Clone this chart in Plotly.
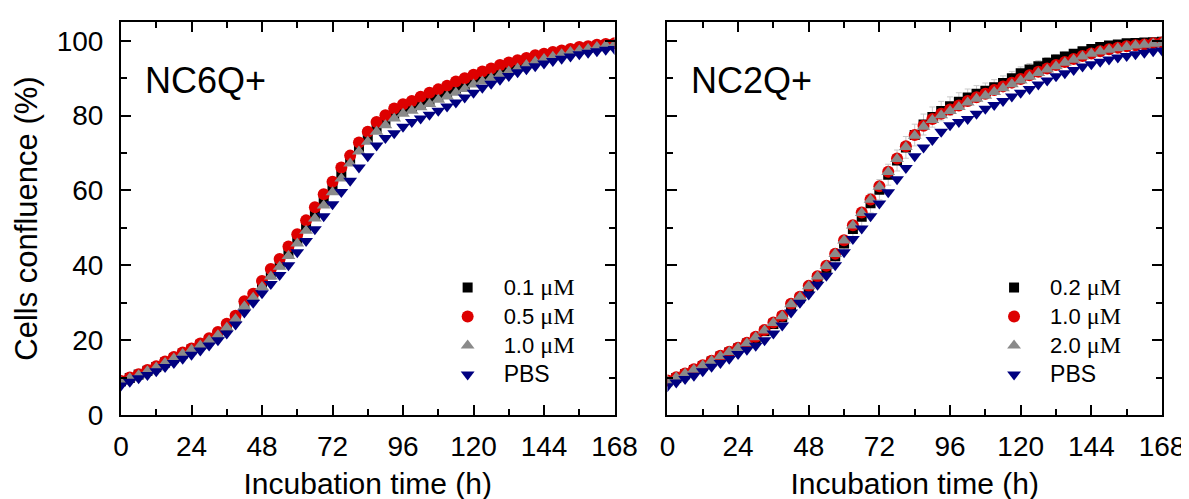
import plotly.graph_objects as go

# ---------------- data ----------------
time_h = [0, 3, 6, 9, 12, 15, 18, 21, 24, 27, 30, 33, 36, 39, 42, 45, 48, 51, 54, 57,
          60, 63, 66, 69, 72, 75, 78, 81, 84, 87, 90, 93, 96, 99, 102, 105, 108, 111, 114, 117,
          120, 123, 126, 129, 132, 135, 138, 141, 144, 147, 150, 153, 156, 159, 162, 165, 168]

# Left panel: NC6Q+
nc6_01 = [9.0, 9.9, 10.8, 11.8, 12.8, 14.0, 15.2, 16.4, 17.5, 18.7,
          20.0, 21.5, 23.6, 26.0, 29.5, 31.8, 34.8, 37.6, 40.3, 43.3,
          46.6, 50.0, 53.4, 57.0, 60.4, 64.2, 68.0, 71.3, 73.9, 76.4,
          78.2, 80.0, 81.3, 82.2, 83.2, 84.1, 85.2, 86.1, 87.1, 88.1,
          89.1, 89.9, 90.8, 91.7, 92.5, 93.3, 94.1, 94.9, 95.6, 96.2,
          96.8, 97.3, 97.7, 98.1, 98.5, 98.8, 99.1]
nc6_05 = [9.1, 10.0, 10.9, 12.0, 13.0, 14.3, 15.5, 16.7, 17.8, 19.1,
          20.5, 22.2, 24.4, 26.5, 30.4, 32.4, 35.8, 39.0, 41.7, 45.0,
          48.3, 52.0, 55.5, 59.0, 62.3, 66.1, 69.3, 72.8, 75.7, 78.3,
          80.1, 81.9, 83.0, 83.9, 85.0, 86.1, 87.0, 88.0, 89.1, 90.0,
          90.9, 91.8, 92.6, 93.5, 94.2, 94.8, 95.4, 96.1, 96.5, 97.0,
          97.4, 97.8, 98.3, 98.5, 98.9, 99.1, 99.3]
nc6_10 = [8.8, 9.8, 10.6, 11.7, 12.7, 13.9, 15.1, 16.3, 17.4, 18.6,
          19.9, 21.3, 23.3, 25.6, 29.0, 31.3, 34.2, 37.0, 39.6, 42.5,
          45.8, 49.2, 52.5, 56.0, 59.5, 63.2, 67.2, 70.4, 73.0, 75.7,
          77.4, 79.2, 80.5, 81.3, 82.2, 83.1, 84.2, 85.1, 86.1, 87.1,
          88.3, 89.1, 90.0, 90.9, 91.8, 92.6, 93.5, 94.4, 95.1, 95.7,
          96.4, 97.0, 97.4, 97.8, 98.3, 98.7, 99.0]
nc6_pbs = [7.9, 8.9, 9.8, 10.7, 11.7, 12.8, 13.9, 15.0, 16.1, 17.2,
           18.6, 20.0, 21.8, 24.2, 27.4, 30.0, 32.5, 35.0, 37.4, 40.0,
           43.5, 46.5, 49.6, 53.1, 56.3, 59.6, 62.6, 66.1, 69.1, 72.0,
           74.0, 75.3, 77.0, 78.3, 79.2, 80.2, 81.3, 82.4, 83.5, 84.8,
           86.1, 87.4, 88.5, 89.6, 90.6, 91.6, 92.4, 93.2, 93.9, 94.6,
           95.2, 95.8, 96.4, 96.8, 97.2, 97.6, 97.8]

# Right panel: NC2Q+
nc2_02 = [9.0, 9.9, 10.9, 12.0, 13.1, 14.3, 15.6, 16.7, 17.8, 19.1,
          20.6, 22.4, 24.3, 26.1, 29.3, 31.2, 34.0, 36.6, 39.3, 42.4,
          45.8, 49.7, 53.0, 56.6, 60.2, 64.2, 68.0, 71.5, 74.8, 77.6,
          79.6, 81.2, 82.5, 83.7, 84.8, 85.8, 86.6, 87.6, 88.7, 90.0,
          91.3, 92.3, 93.2, 94.1, 95.0, 95.8, 96.5, 97.2, 97.8, 98.3,
          98.7, 99.0, 99.3, 99.4, 99.5, 99.6, 99.7]
nc2_02_err = [0.6, 0.6, 0.6, 0.7, 0.7, 0.7, 0.8, 0.8, 0.8, 0.9,
              0.9, 1.0, 1.0, 1.1, 1.2, 1.3, 1.4, 1.5, 1.7, 1.9,
              2.1, 2.3, 2.5, 2.6, 2.7, 2.8, 2.8, 2.9, 2.9, 2.8,
              2.7, 2.6, 2.5, 2.4, 2.3, 2.2, 2.1, 2.0, 1.9, 1.8,
              1.7, 1.6, 1.5, 1.4, 1.3, 1.2, 1.1, 1.0, 0.9, 0.8,
              0.7, 0.6, 0.6, 0.5, 0.5, 0.5, 0.5]
nc2_10 = [9.2, 10.1, 11.1, 12.2, 13.3, 14.5, 15.8, 16.9, 18.0, 19.3,
          20.9, 22.7, 24.7, 26.5, 29.7, 31.6, 34.5, 37.1, 39.9, 43.1,
          46.7, 50.7, 54.1, 57.6, 61.1, 65.0, 68.5, 71.8, 74.8, 77.3,
          79.1, 80.5, 81.6, 82.7, 83.9, 84.9, 85.8, 86.8, 87.8, 88.8,
          89.8, 90.8, 91.7, 92.6, 93.5, 94.3, 95.1, 95.9, 96.6, 97.2,
          97.7, 98.1, 98.5, 98.8, 99.0, 99.3, 99.5]
nc2_20 = [9.1, 10.0, 11.0, 12.1, 13.2, 14.4, 15.7, 16.8, 17.9, 19.2,
          20.8, 22.6, 24.6, 26.4, 29.6, 31.5, 34.4, 37.0, 39.8, 43.0,
          46.6, 50.6, 54.0, 57.5, 61.0, 64.9, 68.4, 71.6, 74.6, 77.0,
          78.8, 80.1, 81.2, 82.3, 83.5, 84.5, 85.3, 86.3, 87.3, 88.4,
          89.4, 90.4, 91.4, 92.3, 93.2, 94.1, 94.9, 95.8, 96.5, 97.1,
          97.6, 98.0, 98.3, 98.7, 98.9, 99.2, 99.4]
nc2_pbs = [7.7, 8.7, 9.6, 10.5, 11.7, 12.9, 13.9, 15.0, 16.3, 17.4,
           18.5, 20.0, 21.8, 23.9, 27.4, 30.0, 32.2, 34.8, 37.2, 40.0,
           43.5, 47.0, 49.8, 53.1, 56.5, 59.5, 63.0, 66.0, 69.1, 71.5,
           73.5, 75.7, 77.4, 78.3, 79.1, 80.5, 81.8, 82.8, 83.9, 85.1,
           86.1, 87.1, 88.3, 89.4, 90.5, 91.3, 92.2, 93.1, 93.7, 94.4,
           95.0, 95.5, 95.9, 96.4, 96.8, 97.2, 97.4]

left_names = ["0.1", "0.5", "1.0", "PBS"]
right_names = ["0.2", "1.0", "2.0", "PBS"]
panel_labels = ["NC6Q+", "NC2Q+"]
x_ticks = [0, 24, 48, 72, 96, 120, 144, 168]
y_ticks = [0, 20, 40, 60, 80, 100]
x_title = "Incubation time (h)"
y_title = "Cells confluence (%)"

# ---------------- style ----------------
SANS = "Arial, Liberation Sans, sans-serif"
SERIF = "Liberation Serif"
colors = ["#000000", "#dd0000", "#8a8a8a", "#000080"]
symbols = ["square", "circle", "triangle-up", "triangle-down"]
sizes = [10, 12, 12, 12]


def label(n):
    if n == "PBS":
        return "<span style='font-size:23px'>PBS</span>"
    return (f"<span style='font-size:22px'>{n} </span>"
            f"<span style='font-family:{SERIF};font-size:24px'>μM</span>")


fig = go.Figure()

left_series = [nc6_01, nc6_05, nc6_10, nc6_pbs]
right_series = [nc2_02, nc2_10, nc2_20, nc2_pbs]

for i, (name, ys) in enumerate(zip(left_names, left_series)):
    fig.add_trace(go.Scatter(
        x=time_h, y=ys, mode="markers", name=label(name),
        marker=dict(symbol=symbols[i], size=sizes[i], color=colors[i], line=dict(width=0)),
        xaxis="x", yaxis="y", legend="legend",
    ))

for i, (name, ys) in enumerate(zip(right_names, right_series)):
    err = None
    if i == 0:
        err = dict(type="data", array=nc2_02_err, visible=True,
                   color="#c8c8c8", thickness=1, width=3)
    fig.add_trace(go.Scatter(
        x=time_h, y=ys, mode="markers", name=label(name),
        marker=dict(symbol=symbols[i], size=sizes[i], color=colors[i], line=dict(width=0)),
        error_y=err,
        xaxis="x2", yaxis="y2", legend="legend2",
    ))

axis_common = dict(
    showline=True, linewidth=2, linecolor="black", mirror="ticks",
    ticks="inside", ticklen=10, tickwidth=2, tickcolor="black",
    showgrid=False, zeroline=False,
    tickfont=dict(family=SANS, size=28, color="black"),
)

xcommon = dict(axis_common, range=[0, 168], tickmode="array", tickvals=x_ticks,
               minor=dict(dtick=12, tick0=0, ticks="inside", ticklen=6, tickwidth=2,
                          tickcolor="black", showgrid=False),
               ticklabelstandoff=5,
               title=dict(text=x_title, font=dict(family=SANS, size=30, color="black"),
                          standoff=12))
ycommon = dict(axis_common, range=[0, 105], tickmode="array", tickvals=y_ticks,
               minor=dict(dtick=10, tick0=0, ticks="inside", ticklen=6, tickwidth=2,
                          tickcolor="black", showgrid=False))

legend_common = dict(
    font=dict(family=SANS, size=20, color="black"),
    bgcolor="rgba(0,0,0,0)", borderwidth=0,
    xanchor="left", yanchor="top", itemsizing="trace", itemwidth=62,
    tracegroupgap=0,
)

fig.update_layout(
    width=1189, height=499,
    margin=dict(l=113, r=27, t=14, b=82),
    paper_bgcolor="white", plot_bgcolor="white",
    xaxis=dict(xcommon, domain=[0, 0.4741], anchor="y"),
    yaxis=dict(ycommon, domain=[0, 1], anchor="x", ticklabelstandoff=10,
               title=dict(text=y_title, font=dict(family=SANS, size=31, color="black"),
                          standoff=10)),
    xaxis2=dict(xcommon, domain=[0.5249, 1], anchor="y2"),
    yaxis2=dict(ycommon, domain=[0, 1], anchor="x2", showticklabels=False),
    legend=dict(legend_common, x=0.2984, y=0.374),
    legend2=dict(legend_common, x=0.2984 + 0.5249, y=0.374),
    annotations=[
        dict(text=panel_labels[0], xref="paper", yref="paper", x=0.021, y=0.851,
             xanchor="left", yanchor="middle", showarrow=False,
             font=dict(family=SANS, size=36, color="black")),
        dict(text=panel_labels[1], xref="paper", yref="paper", x=0.5249 + 0.021, y=0.851,
             xanchor="left", yanchor="middle", showarrow=False,
             font=dict(family=SANS, size=36, color="black")),
    ],
)

fig.write_html("out.html")
